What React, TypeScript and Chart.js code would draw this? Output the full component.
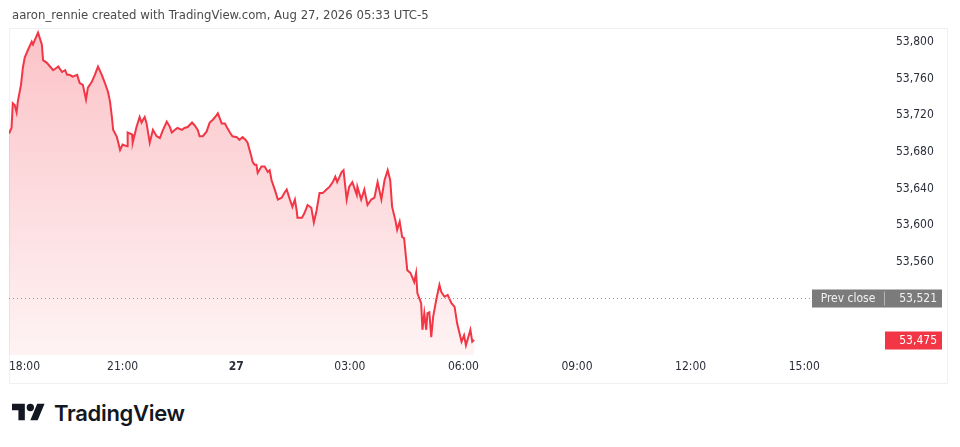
import React, { useEffect, useRef } from "react";
import { Chart, registerables } from "chart.js";

Chart.register(...registerables);

// minutes after 18:00 (Aug 26)
const times = [
  0, 4, 6, 9, 12, 14, 19, 22, 25, 30, 36, 38, 41, 46, 52, 54, 60, 65, 70, 76, 78, 84, 89, 92, 96, 101,
  108, 112, 117, 122, 125, 131, 136, 141, 147, 152, 157, 160, 163, 165, 171, 176, 180, 187, 188, 195,
  196, 202, 207, 210, 215, 218, 223, 228, 234, 239, 244, 250, 255, 258, 263, 267, 274, 278, 283, 290,
  294, 299, 302, 307, 313, 318, 323, 329, 331, 337, 342, 345, 350, 354, 361, 365, 370, 375, 378, 384,
  386, 389, 392, 394, 400, 405, 410, 413, 416, 421, 426, 432, 437, 440, 445, 449, 453, 456, 457, 464,
  468, 473, 479, 483, 487, 492, 497, 503, 508, 513, 517, 520, 527, 530, 535, 539, 544, 551, 552, 558,
  563, 568, 574, 579, 584, 590, 595, 600, 604, 607, 612, 615, 619, 623, 626, 631, 636, 639, 642, 645,
  647, 653, 655, 658, 661, 663, 666, 669, 672, 677, 682, 685, 690, 695, 701, 706, 710, 717, 721, 724,
  731, 734, 737,
];

const prices = [
  53700, 53706, 53733, 53731, 53723, 53735, 53753, 53772, 53783, 53791, 53800, 53797, 53802, 53810, 53797, 53780, 53777, 53773, 53769, 53772, 53773, 53767, 53769, 53764, 53764, 53762,
  53764, 53755, 53753, 53737, 53750, 53756, 53764, 53773, 53764, 53755, 53745, 53735, 53718, 53704, 53696, 53682, 53688, 53686, 53701, 53699,
  53690, 53707, 53718, 53712, 53718, 53711, 53690, 53704, 53697, 53695, 53704, 53713, 53707, 53701, 53704, 53706, 53704, 53706, 53707, 53712,
  53709, 53704, 53697, 53697, 53702, 53712, 53715, 53720, 53722, 53711, 53711, 53707, 53701, 53697, 53696, 53693, 53696, 53693, 53690, 53675,
  53669, 53666, 53666, 53657, 53664, 53664, 53658, 53660, 53649, 53639, 53628, 53630, 53636, 53639, 53628, 53620, 53628, 53615, 53608, 53608,
  53613, 53622, 53619, 53603, 53615, 53635, 53635, 53639, 53642, 53647, 53653, 53647, 53658, 53660, 53628, 53642, 53647, 53633, 53642, 53628,
  53639, 53622, 53628, 53630, 53647, 53628, 53649, 53660, 53649, 53620, 53606, 53595, 53604, 53587, 53586, 53551, 53548, 53543, 53538, 53548,
  53526, 53515, 53486, 53504, 53486, 53504, 53505, 53478, 53500, 53519, 53535, 53527, 53522, 53524, 53515, 53511, 53493, 53473, 53480, 53469,
  53486, 53473, 53475,
];

const xTickValues = [0, 180, 360, 540, 720, 900, 1080, 1260, 1380];
const xTickLabels = ["18:00", "21:00", "27", "03:00", "06:00", "09:00", "12:00", "15:00", ""];
const yTickValues = [53560, 53600, 53640, 53680, 53720, 53760, 53800];
const prevClose = 53521;
const lastPrice = 53475;
const headerText = "aaron_rennie created with TradingView.com, Aug 27, 2026 05:33 UTC-5";

const FONT = "'DejaVu Sans Condensed', 'DejaVu Sans', sans-serif";
const fmt = (v: number) => v.toLocaleString("en-US");

const overlayPlugin = {
  id: "tvOverlay",
  beforeDraw(chart: any) {
    const { ctx, chartArea } = chart;
    ctx.save();
    ctx.strokeStyle = "#eef0f3";
    ctx.lineWidth = 1;
    ctx.strokeRect(chartArea.left + 0.5, chartArea.top + 0.5, 947 - chartArea.left, 383 - chartArea.top);
    ctx.restore();
  },
  afterDatasetsDraw(chart: any) {
    const { ctx, chartArea, scales } = chart;
    const y = scales.y;
    const pc = Math.round(y.getPixelForValue(prevClose)) + 0.5;
    ctx.save();
    // prev close dotted line
    ctx.strokeStyle = "#9598a1";
    ctx.lineWidth = 1;
    ctx.setLineDash([1, 3]);
    ctx.beginPath();
    ctx.moveTo(chartArea.left, pc);
    ctx.lineTo(812, pc);
    ctx.stroke();
    ctx.setLineDash([]);
    // prev close label
    const h = 18;
    ctx.fillStyle = "#7b7b7b";
    ctx.fillRect(812, pc - h / 2, 130, h);
    ctx.fillStyle = "#b5b5b5";
    ctx.fillRect(884, pc - h / 2 + 2, 1, h - 4);
    ctx.font = `12px ${FONT}`;
    ctx.textBaseline = "middle";
    ctx.fillStyle = "#f2f2f2";
    ctx.textAlign = "center";
    ctx.fillText("Prev close", 848, pc + 0.5);
    ctx.textAlign = "right";
    ctx.fillText(fmt(prevClose), 937, pc + 0.5);
    // last price label
    const lp = Math.round(y.getPixelForValue(lastPrice)) + 0.5;
    ctx.fillStyle = "#f23645";
    ctx.fillRect(885, lp - h / 2, 57, h);
    ctx.fillStyle = "#ffffff";
    ctx.fillText(fmt(lastPrice), 937, lp + 0.5);
    ctx.restore();
  },
};

function TVLogo() {
  return (
    <svg width="33" height="26" viewBox="0 0 36 28" style={{ display: "block" }}>
      <path d="M14 22H7V11H0V4h14v18zM28 22h-8l7.5-18h8L28 22z" fill="#131722" />
      <circle cx="20" cy="8" r="4" fill="#131722" />
    </svg>
  );
}

export default function App() {
  const canvasRef = useRef<HTMLCanvasElement>(null);

  useEffect(() => {
    if (!canvasRef.current) return;
    const chart = new Chart(canvasRef.current, {
      type: "line",
      data: {
        datasets: [
          {
            data: times.map((t, i) => ({ x: t, y: prices[i] })),
            borderColor: "#f23645",
            borderWidth: 2,
            pointRadius: 0,
            tension: 0,
            fill: "start",
            backgroundColor: (context: any) => {
              const { chart } = context;
              const area = chart.chartArea;
              if (!area) return "rgba(242,54,69,0.2)";
              const g = chart.ctx.createLinearGradient(0, area.top, 0, area.bottom);
              g.addColorStop(0, "rgba(242,54,69,0.30)");
              g.addColorStop(1, "rgba(242,54,69,0.06)");
              return g;
            },
          },
        ],
      },
      options: {
        animation: false,
        responsive: false,
        layout: { padding: { top: 28, left: 9, right: 0, bottom: 0 } },
        plugins: { legend: { display: false }, tooltip: { enabled: false } },
        scales: {
          x: {
            type: "linear",
            min: 0,
            max: 1380,
            grid: { display: false, drawTicks: false },
            border: { display: false },
            afterBuildTicks: (scale: any) => {
              scale.ticks = xTickValues.map((v) => ({ value: v }));
            },
            afterFit: (scale: any) => {
              scale.height = 33;
            },
            ticks: {
              autoSkip: false,
              maxRotation: 0,
              align: "inner",
              padding: 5,
              color: "#2a2e39",
              font: (ctx: any) => ({
                family: FONT,
                size: 12,
                weight: xTickLabels[ctx.index] === "27" ? "bold" : "normal",
              }),
              callback: (_v: any, i: number) => xTickLabels[i],
            },
          },
          y: {
            position: "right",
            min: 53458.5,
            max: 53815,
            grid: { display: false, drawTicks: false },
            border: { display: false },
            afterBuildTicks: (scale: any) => {
              scale.ticks = yTickValues.map((v) => ({ value: v }));
            },
            afterFit: (scale: any) => {
              scale.width = 80;
            },
            ticks: {
              padding: 16,
              color: "#2a2e39",
              font: { family: FONT, size: 12 },
              callback: (v: any) => fmt(Number(v)),
            },
          },
        },
      } as any,
      plugins: [overlayPlugin],
    });
    return () => chart.destroy();
  }, []);

  return (
    <div
      style={{
        position: "absolute",
        left: 0,
        top: 0,
        width: 960,
        height: 447,
        background: "#ffffff",
        overflow: "hidden",
      }}
    >
      <canvas
        ref={canvasRef}
        width={960}
        height={388}
        style={{ position: "absolute", left: 0, top: 0, width: 960, height: 388 }}
      />
      <div
        style={{
          position: "absolute",
          left: 12,
          top: 7,
          fontFamily: FONT,
          fontSize: 13,
          color: "#4a4a4a",
          whiteSpace: "nowrap",
          lineHeight: "16px",
        }}
      >
        {headerText}
      </div>
      <div
        style={{
          position: "absolute",
          left: 12,
          top: 400,
          display: "flex",
          alignItems: "center",
          gap: 9,
        }}
      >
        <TVLogo />
        <span
          style={{
            fontFamily: "Inter, 'Noto Sans', sans-serif",
            fontWeight: 600,
            fontSize: 22,
            color: "#131722",
            letterSpacing: -0.3,
            lineHeight: "26px",
          }}
        >
          TradingView
        </span>
      </div>
    </div>
  );
}
